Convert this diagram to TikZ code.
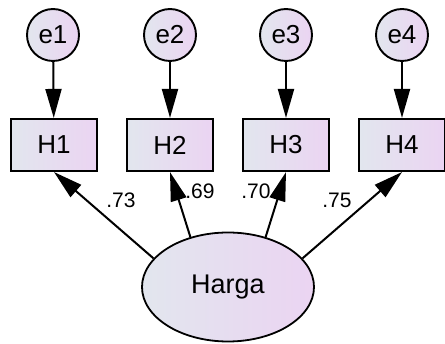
\documentclass[tikz,border=0pt]{standalone}
\usepackage{fontspec}
\setmainfont{Liberation Sans}
\usetikzlibrary{arrows.meta,shapes.geometric}
\definecolor{fillA}{HTML}{E2E6EE}
\definecolor{fillB}{HTML}{EBD4F2}
\begin{document}
\begin{tikzpicture}[x=1pt,y=-1pt,
  shade fill/.style={left color=fillA, right color=fillB},
  errvar/.style={circle, draw, line width=1.9pt, shade fill, minimum size=52pt, inner sep=0pt, font=\fontsize{26}{30}\selectfont},
  obsvar/.style={rectangle, draw, line width=2.1pt, shade fill, minimum width=86pt, minimum height=52pt, inner sep=0pt, font=\fontsize{26}{30}\selectfont},
  latvar/.style={ellipse, draw, line width=1.8pt, shade fill, minimum width=172pt, minimum height=109pt, inner sep=0pt, font=\fontsize{27}{31}\selectfont},
  path/.style={line width=2pt, -{Triangle[length=29pt, width=16pt]}},
  coef/.style={font=\fontsize{21}{24}\selectfont, inner sep=0pt}]
\useasboundingbox (0,0) rectangle (445,344);
% error terms
\node[errvar] (e1) at (53,35) {e1};
\node[errvar] (e2) at (170,35) {e2};
\node[errvar] (e3) at (286,35) {e3};
\node[errvar] (e4) at (402,35) {e4};
% indicators
\node[obsvar] (H1) at (54,145) {H1};
\node[obsvar] (H2) at (170,145) {H2};
\node[obsvar] (H3) at (286,145) {H3};
\node[obsvar] (H4) at (402,145) {H4};
% latent factor
\node[latvar] (L) at (228,287) {Harga};
% error paths
\foreach \i in {1,...,4} \draw[path] (e\i) -- (H\i);
% loadings
\draw[path] (L.159) -- (H1.south);
\draw[path] (L.127) -- (H2.south);
\draw[path] (L.53) -- (H3.south);
\draw[path] (L.21) -- (H4.south);
\node[coef] (c1) at (121,200) {.73};
\node[coef] (c2) at (200,191) {.69};
\node[coef] (c3) at (256,191) {.70};
\node[coef] (c4) at (337,200) {.75};
\end{tikzpicture}
\end{document}
